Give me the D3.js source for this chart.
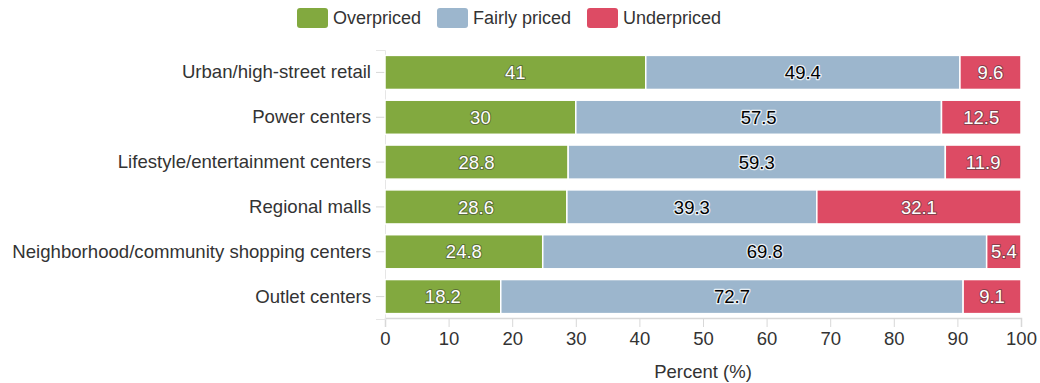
<!DOCTYPE html>
<head>
<meta charset="utf-8">
<script src="https://d3js.org/d3.v7.min.js"></script>
</head>
<style>
body { margin: 0; background: #fff; font-family: "Helvetica Neue", "Liberation Sans", Arial, sans-serif; }
.tick text { fill: #333; }
.lbl { paint-order: stroke; stroke-linejoin: round; }
</style>
<body>
<script>
var categories = ["Urban/high-street retail", "Power centers", "Lifestyle/entertainment centers",
  "Regional malls", "Neighborhood/community shopping centers", "Outlet centers"];
var seriesNames = ["Overpriced", "Fairly priced", "Underpriced"];
var overpriced = [41, 30, 28.8, 28.6, 24.8, 18.2];
var fairlyPriced = [49.4, 57.5, 59.3, 39.3, 69.8, 72.7];
var underpriced = [9.6, 12.5, 11.9, 32.1, 5.4, 9.1];
var xTicks = [0, 10, 20, 30, 40, 50, 60, 70, 80, 90, 100];
var colors = ["#82a93f", "#9cb6cd", "#dd4b64"];

var width = 1040, height = 383, fs = 18;
var plotLeft = 385, plotRight = 1021, plotTop = 50, plotBottom = 319;

var svg = d3.select("body").append("svg")
    .attr("width", width)
    .attr("height", height);

var x = d3.scaleLinear().domain([0, 100]).range([plotLeft, plotRight]);
var y = d3.scaleBand().domain(categories).range([plotTop, plotBottom]).paddingInner(0.24).paddingOuter(0.12);

var rows = categories.map(function(c, i) {
  return { cat: c, Overpriced: overpriced[i], "Fairly priced": fairlyPriced[i], Underpriced: underpriced[i] };
});
var stacked = d3.stack().keys(seriesNames)(rows);

// x axis
var xAxis = svg.append("g")
    .attr("transform", "translate(0," + (plotBottom - 1) + ")")
    .call(d3.axisBottom(x).tickValues(xTicks).tickSize(9).tickPadding(5));
xAxis.select(".domain").attr("stroke", "#d8d8d8").attr("stroke-width", 1.5);
xAxis.selectAll(".tick line").attr("stroke", "#d8d8d8");
xAxis.selectAll(".tick text").attr("font-size", 18.5).attr("font-family", null);

// y axis
var yAxis = svg.append("g")
    .attr("transform", "translate(" + plotLeft + ",0)")
    .call(d3.axisLeft(y).tickSize(9).tickPadding(5));
yAxis.select(".domain").attr("stroke", "#e6e6e6");
yAxis.selectAll(".tick line").attr("stroke", "#d8d8d8");
yAxis.selectAll(".tick text").attr("x", -14).attr("font-size", 18.6).attr("font-family", null);

// bars
var groups = svg.selectAll(".series")
  .data(stacked)
  .enter().append("g")
    .attr("class", "series")
    .attr("fill", function(d, i) { return colors[i]; });

groups.selectAll("rect")
  .data(function(d) { return d; })
  .enter().append("rect")
    .attr("x", function(d) { return x(d[0]); })
    .attr("y", function(d) { return y(d.data.cat); })
    .attr("width", function(d) { return x(d[1]) - x(d[0]); })
    .attr("height", y.bandwidth())
    .attr("stroke", "#fff")
    .attr("stroke-width", 1.5);

groups.each(function(s, si) {
  d3.select(this).selectAll("text")
    .data(s)
    .enter().append("text")
      .attr("class", "lbl")
      .attr("x", function(d) { return (x(d[0]) + x(d[1])) / 2; })
      .attr("y", function(d) { return y(d.data.cat) + y.bandwidth() / 2; })
      .attr("dy", "0.36em")
      .attr("text-anchor", "middle")
      .attr("font-size", 18.5)
      .attr("fill", si === 1 ? "#000" : "#fff")
      .attr("stroke", si === 1 ? "#fff" : "#333")
      .attr("stroke-width", si === 1 ? 2.5 : 2)
      .attr("stroke-opacity", si === 1 ? 0.8 : 0.5)
      .text(function(d) { return d.data[s.key]; });
});

// axis title
svg.append("text")
    .attr("x", (plotLeft + plotRight) / 2)
    .attr("y", 378)
    .attr("text-anchor", "middle")
    .attr("font-size", 18.5)
    .attr("fill", "#333")
    .text("Percent (%)");

// legend
var legendX = [297, 437, 587];
var legend = svg.selectAll(".legend")
  .data(seriesNames)
  .enter().append("g")
    .attr("class", "legend")
    .attr("transform", function(d, i) { return "translate(" + legendX[i] + ",8)"; });
legend.append("rect")
    .attr("width", 31).attr("height", 20).attr("rx", 3)
    .attr("fill", function(d, i) { return colors[i]; });
legend.append("text")
    .attr("x", 36).attr("y", 10).attr("dy", "0.35em")
    .attr("font-size", fs).attr("fill", "#333")
    .text(function(d) { return d; });
</script>
</body>
